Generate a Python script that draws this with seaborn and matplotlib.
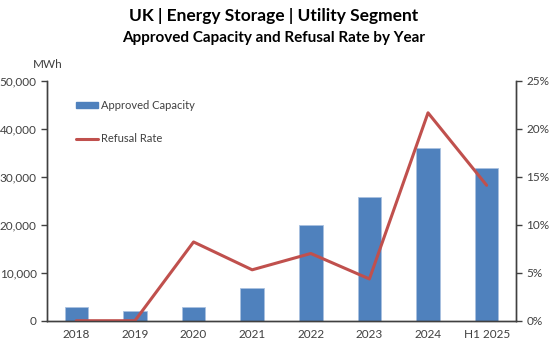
import matplotlib
matplotlib.use("Agg")
import pandas as pd
import seaborn as sns
from matplotlib import pyplot as plt
from matplotlib.ticker import FuncFormatter, MultipleLocator
from matplotlib.patches import Patch
from matplotlib.lines import Line2D

years = ["2018", "2019", "2020", "2021", "2022", "2023", "2024", "H1 2025"]
approved_mwh = [2900, 2100, 2800, 6800, 19900, 25800, 35900, 31700]
refusal_rate = [0.0, 0.0, 8.2, 5.3, 7.0, 4.35, 21.65, 14.1]

df = pd.DataFrame({"year": years, "approved": approved_mwh, "refusal": refusal_rate})

sns.set_style("white")
plt.rcParams['font.family'] = ['Lato', 'DejaVu Sans']

bar_color = "#4F81BD"
line_color = "#C0504D"
txt_color = "#404040"

fig = plt.figure(figsize=(5.53, 3.51), dpi=100)
ax = fig.add_axes([0.085, 0.0863, 0.848, 0.684])

sns.barplot(data=df, x="year", y="approved", color=bar_color, width=0.4,
            edgecolor="#a9c1e0", linewidth=0.6, saturation=1, ax=ax)
ax.set_ylim(0, 50000)
ax.set_xlim(-0.5, len(years) - 0.5)
ax.yaxis.set_major_locator(MultipleLocator(10000))
ax.yaxis.set_major_formatter(FuncFormatter(lambda v, p: f"{int(v):,}"))
ax.set_xlabel("")
ax.set_ylabel("")

ax2 = ax.twinx()
sns.lineplot(x=range(len(years)), y=df["refusal"], color=line_color, linewidth=2.2, ax=ax2)
ax2.set_ylim(0, 25)
ax2.yaxis.set_major_locator(MultipleLocator(5))
ax2.yaxis.set_major_formatter(FuncFormatter(lambda v, p: f"{int(v)}%"))
ax2.set_ylabel("")
ax2.set_xlim(-0.5, len(years) - 0.5)

for a in (ax, ax2):
    for s in a.spines.values():
        s.set_color("#404040")
        s.set_linewidth(1.0)
    a.spines['top'].set_visible(False)
    a.tick_params(axis='y', colors="#404040", labelcolor=txt_color, labelsize=8.5,
                  length=4, width=1, direction='out')
ax.tick_params(axis='x', labelcolor=txt_color, labelsize=8.5, length=0, pad=6)
ax.tick_params(axis='y', left=True)
ax2.tick_params(axis='y', right=True)

fig.text(0.059, 0.815, "MWh", fontsize=8.5, color=txt_color, ha='left', va='center')

fig.text(0.495, 0.955, "UK | Energy Storage | Utility Segment", fontsize=12.5,
         fontweight='bold', ha='center', va='center', color="black")
fig.text(0.495, 0.893, "Approved Capacity and Refusal Rate by Year", fontsize=11,
         fontweight='bold', ha='center', va='center', color="black")

handles = [Patch(facecolor=bar_color, edgecolor=bar_color),
           Line2D([0], [0], color=line_color, linewidth=2.2)]
ax.legend(handles, ["Approved Capacity", "Refusal Rate"], loc='upper left',
          bbox_to_anchor=(0.04, 0.96), frameon=False, fontsize=8,
          labelcolor=txt_color, labelspacing=2.0, handlelength=2.0,
          handleheight=0.5, handletextpad=0.3)

fig.savefig("out.png", dpi=100)
